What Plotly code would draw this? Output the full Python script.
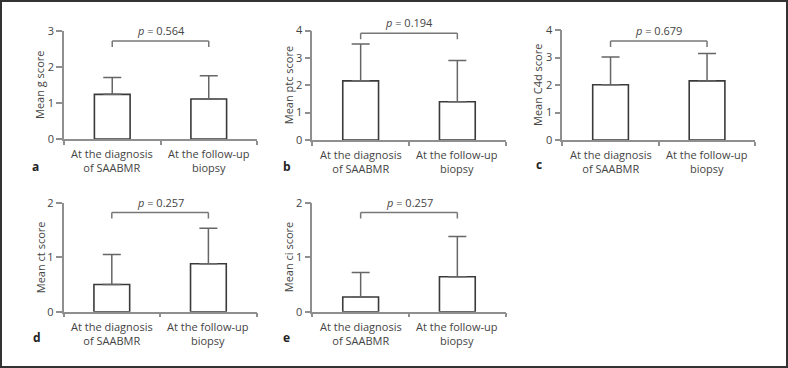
import plotly.graph_objects as go

categories = ["At the diagnosis<br>of SAABMR", "At the follow-up<br>biopsy"]

g_mean = [1.24, 1.11]
g_sd = [0.47, 0.65]
ptc_mean = [2.16, 1.40]
ptc_sd = [1.35, 1.50]
c4d_mean = [2.01, 2.15]
c4d_sd = [1.01, 1.00]
ct_mean = [0.50, 0.88]
ct_sd = [0.55, 0.65]
ci_mean = [0.27, 0.64]
ci_sd = [0.45, 0.74]

panel_letters = ["a", "b", "c", "d", "e"]
y_titles = ["Mean g score", "Mean ptc score", "Mean C4d score", "Mean ct score", "Mean ci score"]
y_max = [3, 4, 4, 2, 2]
p_values = ["0.564", "0.194", "0.679", "0.257", "0.257"]
bracket_level = [2.72, 3.90, 3.60, 1.82, 1.82]

means = [g_mean, ptc_mean, c4d_mean, ct_mean, ci_mean]
sds = [g_sd, ptc_sd, c4d_sd, ct_sd, ci_sd]

W, H = 788, 368
# pixel layout of each panel: (x_left, x_right, y_bottom, y_top)
px_layout = [
    (64, 257, 139, 31),
    (312.3, 505.7, 140, 30.5),
    (562.3, 755.3, 140, 30),
    (63.5, 256.7, 311.7, 202.7),
    (312.3, 505.7, 311.7, 202.7),
]
letter_pos = [(35, 166), (286.7, 166), (538.5, 164), (37, 337), (286.7, 337)]
title_x = [40, 288, 538, 40, 288]

FONT = "Open Sans"
TXT = "#444444"
AX = "#8f8f8f"

fig = go.Figure()
layout = dict(
    width=W, height=H, autosize=False,
    margin=dict(l=0, r=0, t=0, b=0, pad=0),
    paper_bgcolor="white", plot_bgcolor="white",
    showlegend=False,
    font=dict(family=FONT, size=11, color=TXT),
)
shapes = []
annotations = []

for i in range(5):
    n = "" if i == 0 else str(i + 1)
    xl, xr, yb, yt = px_layout[i]
    xa = "xaxis" + n
    ya = "yaxis" + n
    xref = "x" + n
    yref = "y" + n
    layout[xa] = dict(
        domain=[xl / W, xr / W], anchor=yref, type="category", automargin=False,
        range=[-0.5, 1.5], showline=True, linecolor=AX, linewidth=1.5,
        ticks="outside", ticklen=4, tickcolor=AX, tickwidth=1.5,
        tickson="boundaries", showgrid=False, zeroline=False,
        showticklabels=False,
    )
    layout[ya] = dict(
        domain=[1 - yb / H, 1 - yt / H], anchor=xref, automargin=False,
        range=[0, y_max[i]], dtick=1, showline=True, linecolor=AX, linewidth=1.5,
        ticks="outside", ticklen=6, tickcolor=AX, tickwidth=1.5,
        showgrid=False, zeroline=False,
        tickfont=dict(family=FONT, size=11, color=TXT),
    )
    fig.add_trace(go.Bar(
        x=categories, y=means[i], xaxis=xref, yaxis=yref, width=0.37,
        marker=dict(color="white", line=dict(color="#3a3a3a", width=1.6)),
        error_y=dict(type="data", symmetric=False, array=sds[i], arrayminus=[0, 0],
                     color="#666666", thickness=1.5, width=9),
    ))
    # y-axis title
    annotations.append(dict(
        x=title_x[i] / W, y=1 - (yb + yt) / 2 / H, xref="paper", yref="paper", text=y_titles[i],
        textangle=-90, showarrow=False, xanchor="center", yanchor="middle",
        font=dict(family=FONT, size=11, color=TXT),
    ))
    # category labels below the axis
    for c in categories:
        annotations.append(dict(
            x=c, y=1 - (yb + 5) / H, xref=xref, yref="paper", text=c,
            showarrow=False, xanchor="center", yanchor="top",
            font=dict(family=FONT, size=11, color=TXT),
        ))
    b = bracket_level[i]
    leg = 0.055 * y_max[i]
    for (x0, y0, x1, y1) in [(0, b, 1, b), (0, b, 0, b - leg), (1, b, 1, b - leg)]:
        shapes.append(dict(type="line", xref=xref, yref=yref, x0=categories[x0], x1=categories[x1],
                           y0=y0, y1=y1, line=dict(color="#777777", width=1.5)))
    annotations.append(dict(
        x=0.5, y=b, xref=xref, yref=yref, text="<i>p</i> = " + p_values[i],
        showarrow=False, yanchor="bottom", xanchor="center", yshift=1,
        font=dict(family=FONT, size=11, color=TXT),
    ))
    lx, ly = letter_pos[i]
    annotations.append(dict(
        x=lx / W, y=1 - ly / H, xref="paper", yref="paper", text="<b>" + panel_letters[i] + "</b>",
        showarrow=False, xanchor="center", yanchor="middle",
        font=dict(family=FONT, size=12, color="#222222"),
    ))

shapes.append(dict(type="rect", xref="paper", yref="paper",
                   x0=1 / W, x1=787 / W, y0=1 - 367 / H, y1=1 - 1 / H,
                   line=dict(color="#333333", width=2)))

layout["shapes"] = shapes
layout["annotations"] = annotations
fig.update_layout(**layout)

post = (
    "document.documentElement.style.margin='0';document.documentElement.style.padding='0';"
    "document.body.style.margin='0';document.body.style.padding='0';document.body.style.overflow='hidden';"
    "var d=document.getElementsByClassName('plotly-graph-div')[0];"
    "d.style.position='fixed';d.style.top='0px';d.style.left='0px';window.scrollTo(0,0);"
)
fig.write_html("out.html", config={"displayModeBar": False}, post_script=post)
